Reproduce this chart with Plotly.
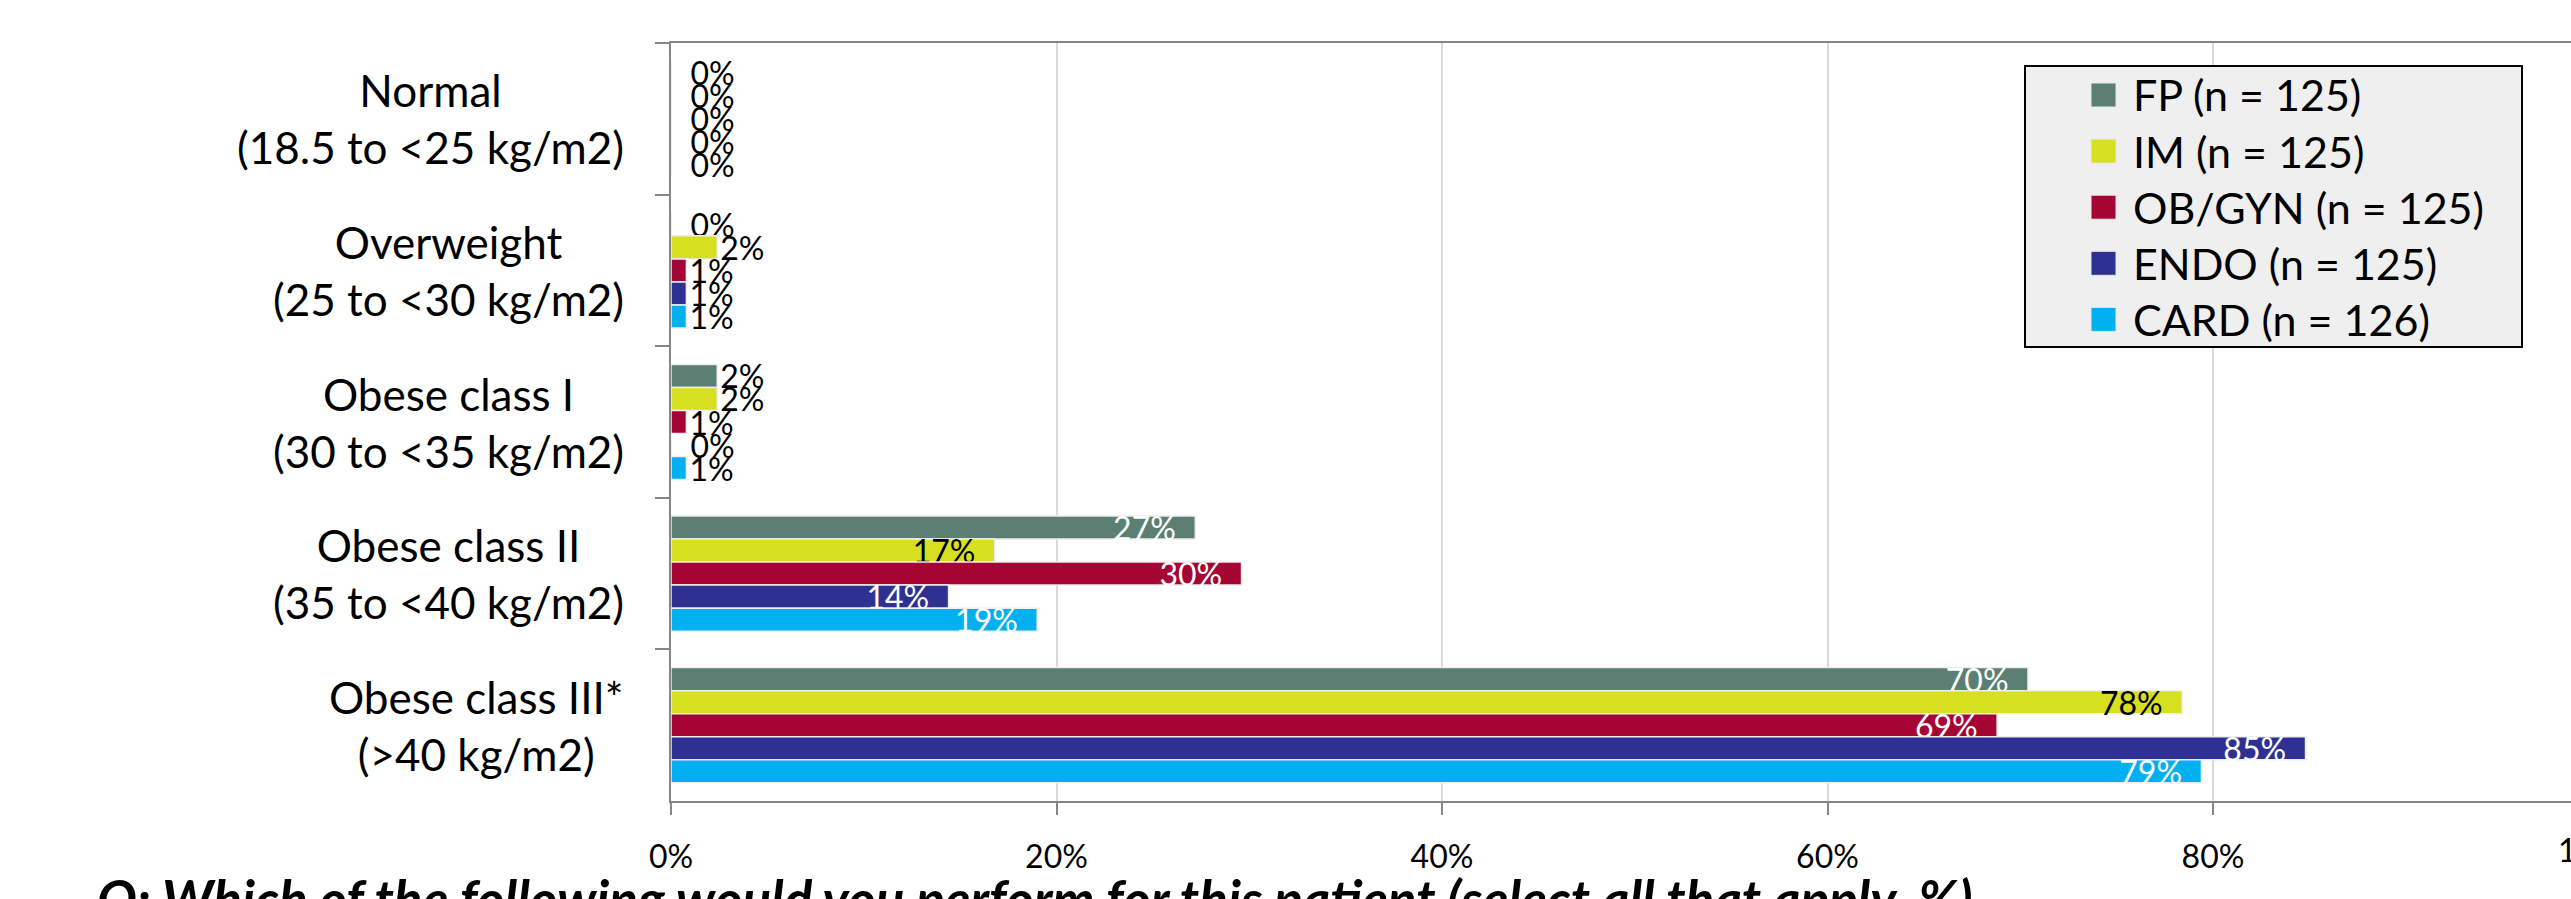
import plotly.graph_objects as go

# ---------------- data ----------------
categories = ["Normal", "Overweight", "Obese class I", "Obese class II", "Obese class III*"]
category_sub = ["(18.5 to <25 kg/m2)", "(25 to <30 kg/m2)", "(30 to <35 kg/m2)",
                "(35 to <40 kg/m2)", "(>40 kg/m2)"]
series = ["FP (n = 125)", "IM (n = 125)", "OB/GYN (n = 125)", "ENDO (n = 125)", "CARD (n = 126)"]
fp = [0, 0, 2.4, 27.2, 70.4]
im = [0, 2.4, 2.4, 16.8, 78.4]
obgyn = [0, 0.8, 0.8, 29.6, 68.8]
endo = [0, 0.8, 0, 14.4, 84.8]
card = [0, 0.8, 0.8, 19.0, 79.4]
x_tick_vals = [0, 20, 40, 60, 80]
x_last_tick = 100
question = "Q: Which of the following would you perform for this patient (select all that apply, %)"

# ---------------- styles ----------------
colors = ["#5b7f72", "#d7df21", "#a50533", "#2e3192", "#00b0f0"]
inside_label_colors = ["white", "black", "white", "white", "white"]
FONT = "Lato"
AXIS_GRAY = "#868686"
GRID_GRAY = "#d9d9d9"
NB = "\u00a0"

W, H = 2571, 899
L, T, B, R = 671, 43, 98, 0
PW, PH = W - L - R, H - T - B
px_per_pct = 19.275
x_max = PW / px_per_pct


def px_x(p):
    return (p - L) / PW


def px_y(p):
    return (H - B - p) / PH


def label_template(v):
    if v >= 5:
        return "%{x:.0f}%" + NB * 2          # inside end, small gap to bar end
    if v == 0:
        return NB * 2 + "%{x:.0f}%"          # empty bar: label set off from axis
    return "%{x:.0f}%"


fig = go.Figure()
for name, vals, col, lc in zip(series, [fp, im, obgyn, endo, card], colors, inside_label_colors):
    fig.add_trace(go.Bar(
        y=categories, x=vals, name=name, orientation="h",
        marker=dict(color=col, line=dict(color="#eeeeee", width=1.5)),
        texttemplate=[label_template(v) for v in vals],
        textposition=["inside" if v >= 5 else "outside" for v in vals],
        insidetextanchor="end",
        insidetextfont=dict(family=FONT, size=32, color=lc),
        outsidetextfont=dict(family=FONT, size=32, color="black"),
        textangle=0, constraintext="none", cliponaxis=False,
        showlegend=False,
    ))

annotations = []
for c, s in zip(categories, category_sub):
    annotations.append(dict(
        x=0, xref="x", y=c, yref="y", xanchor="right", yanchor="middle",
        xshift=-45, align="center", showarrow=False,
        text=f"{c}<br>{s}", font=dict(family=FONT, size=44, color="black"),
    ))

# 100% tick label (falls beyond the visible right edge of the plot)
annotations.append(dict(
    x=x_last_tick / x_max, xref="paper", y=px_y(849), yref="paper",
    xanchor="center", yanchor="middle", showarrow=False,
    text=f"{x_last_tick}%", font=dict(family=FONT, size=32, color="black"),
))

# question text at the bottom (cut off by the page edge)
annotations.append(dict(
    x=px_x(95), xref="paper", y=px_y(865), yref="paper",
    xanchor="left", yanchor="top", showarrow=False,
    text=f"<b><i>{question}</i></b>", font=dict(family=FONT, size=53, color="black"),
))

# manual legend
shapes = [dict(type="rect", xref="paper", yref="paper",
               x0=px_x(2025), x1=px_x(2522), y0=px_y(347), y1=px_y(66),
               fillcolor="#efefef", line=dict(color="black", width=2), layer="above")]
for i, (name, col) in enumerate(zip(series, colors)):
    cy = 95 + 56.1 * i
    shapes.append(dict(type="rect", xref="paper", yref="paper",
                       x0=px_x(2091), x1=px_x(2116), y0=px_y(cy + 12), y1=px_y(cy - 12),
                       fillcolor=col, line=dict(color="#e8e8e8", width=1), layer="above"))
    annotations.append(dict(
        x=px_x(2131), xref="paper", y=px_y(cy), yref="paper",
        xanchor="left", yanchor="middle", showarrow=False,
        text=name, font=dict(family=FONT, size=43, color="black"),
    ))

fig.update_layout(
    width=W, height=H,
    margin=dict(l=L, r=R, t=T, b=B, pad=0),
    paper_bgcolor="white", plot_bgcolor="white",
    barmode="group", bargap=0.24, bargroupgap=0,
    showlegend=False,
    font=dict(family=FONT, color="black"),
    xaxis=dict(
        range=[0, x_max], tickmode="array", tickvals=x_tick_vals,
        ticktext=[f"{v}%" for v in x_tick_vals],
        ticks="outside", ticklen=12, tickwidth=2, tickcolor=AXIS_GRAY,
        showline=True, linecolor=AXIS_GRAY, linewidth=2, mirror=True,
        showgrid=True, gridcolor=GRID_GRAY, gridwidth=2, zeroline=False,
        tickfont=dict(family=FONT, size=32, color="black"),
        ticklabelstandoff=15,
    ),
    yaxis=dict(
        autorange=False, range=[4.5, -0.5], type="category",
        tickson="boundaries", ticks="outside", ticklen=14, tickwidth=2, tickcolor=AXIS_GRAY,
        showline=True, linecolor=AXIS_GRAY, linewidth=2,
        showticklabels=False, showgrid=False, zeroline=False,
    ),
    annotations=annotations,
    shapes=shapes,
)

fig.write_html("out.html")
